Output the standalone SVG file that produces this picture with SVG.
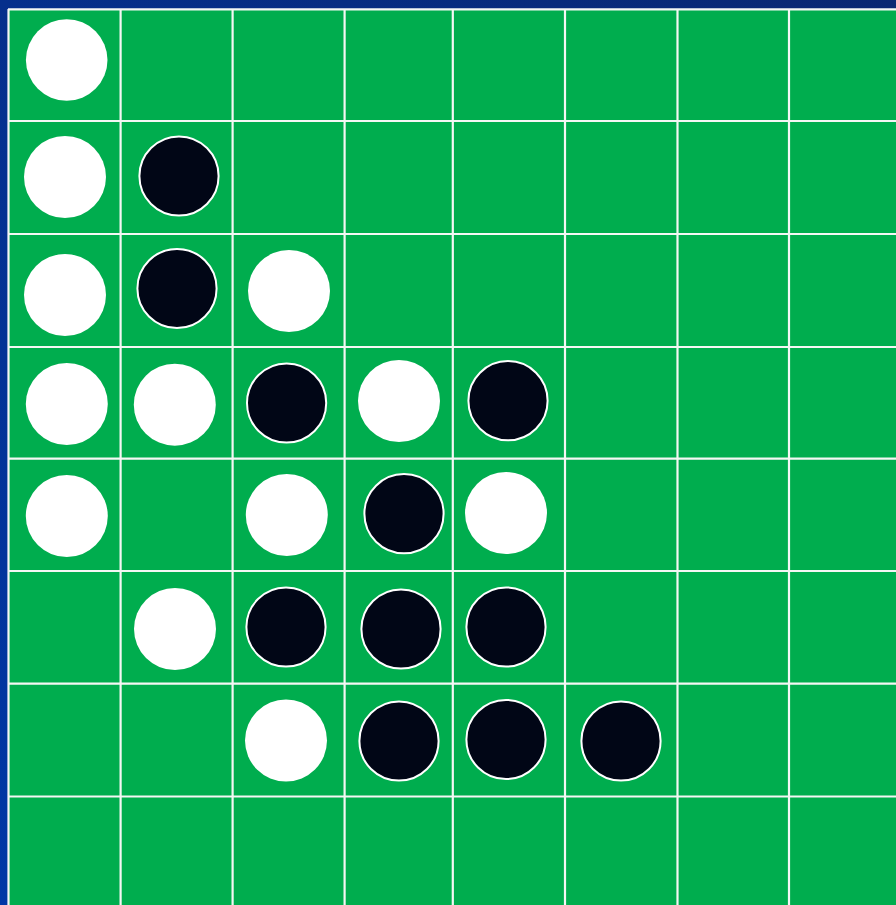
<svg xmlns="http://www.w3.org/2000/svg" width="896" height="905" viewBox="0 0 896 905">
<defs>
<linearGradient id="bg" x1="1" y1="0" x2="0" y2="1">
<stop offset="0" stop-color="#0a2772"/>
<stop offset="1" stop-color="#0037a6"/>
</linearGradient>
<style>
.grid line{stroke:#f4f7f4;stroke-width:2.2}
.w{fill:#ffffff}
.b{fill:#010616;stroke:#ffffff;stroke-width:2}
</style>
</defs>
<rect x="0" y="0" width="896" height="905" fill="url(#bg)"/>
<rect id="board" x="8" y="9" width="888" height="896" fill="#00ad4e"/>
<g id="grid" class="grid">
<line x1="8.5" y1="9" x2="8.5" y2="905"/>
<line x1="120.6" y1="9" x2="120.6" y2="905"/>
<line x1="232.6" y1="9" x2="232.6" y2="905"/>
<line x1="344.6" y1="9" x2="344.6" y2="905"/>
<line x1="452.8" y1="9" x2="452.8" y2="905"/>
<line x1="565" y1="9" x2="565" y2="905"/>
<line x1="677.5" y1="9" x2="677.5" y2="905"/>
<line x1="789" y1="9" x2="789" y2="905"/>
<line x1="8" y1="9.3" x2="896" y2="9.3"/>
<line x1="8" y1="121" x2="896" y2="121"/>
<line x1="8" y1="234" x2="896" y2="234"/>
<line x1="8" y1="347" x2="896" y2="347"/>
<line x1="8" y1="458.7" x2="896" y2="458.7"/>
<line x1="8" y1="571" x2="896" y2="571"/>
<line x1="8" y1="683.7" x2="896" y2="683.7"/>
<line x1="8" y1="796.5" x2="896" y2="796.5"/>
</g>
<g id="discs">
<circle id="d-0-0" class="w" cx="66.7" cy="60" r="40.8"/>
<circle id="d-1-0" class="w" cx="65" cy="177" r="41"/>
<circle id="d-1-1" class="b" cx="179" cy="176" r="39.6"/>
<circle id="d-2-0" class="w" cx="65" cy="295" r="41"/>
<circle id="d-2-1" class="b" cx="177" cy="288.5" r="39.6"/>
<circle id="d-2-2" class="w" cx="289" cy="291" r="41"/>
<circle id="d-3-0" class="w" cx="66.8" cy="404" r="41"/>
<circle id="d-3-1" class="w" cx="174.8" cy="404.7" r="41"/>
<circle id="d-3-2" class="b" cx="286.6" cy="403" r="39.6"/>
<circle id="d-3-3" class="w" cx="399" cy="401" r="41"/>
<circle id="d-3-4" class="b" cx="508" cy="400.7" r="39.6"/>
<circle id="d-4-0" class="w" cx="66.8" cy="516" r="41"/>
<circle id="d-4-2" class="w" cx="286.8" cy="515" r="41"/>
<circle id="d-4-3" class="b" cx="404" cy="513.7" r="39.6"/>
<circle id="d-4-4" class="w" cx="506" cy="513" r="41"/>
<circle id="d-5-1" class="w" cx="175" cy="629" r="41"/>
<circle id="d-5-2" class="b" cx="286" cy="627" r="39.6"/>
<circle id="d-5-3" class="b" cx="401" cy="629" r="39.6"/>
<circle id="d-5-4" class="b" cx="506" cy="627" r="39.6"/>
<circle id="d-6-2" class="w" cx="286" cy="740.5" r="41"/>
<circle id="d-6-3" class="b" cx="399" cy="741" r="39.6"/>
<circle id="d-6-4" class="b" cx="506" cy="739.5" r="39.6"/>
<circle id="d-6-5" class="b" cx="621" cy="741" r="39.6"/>
</g>
</svg>
